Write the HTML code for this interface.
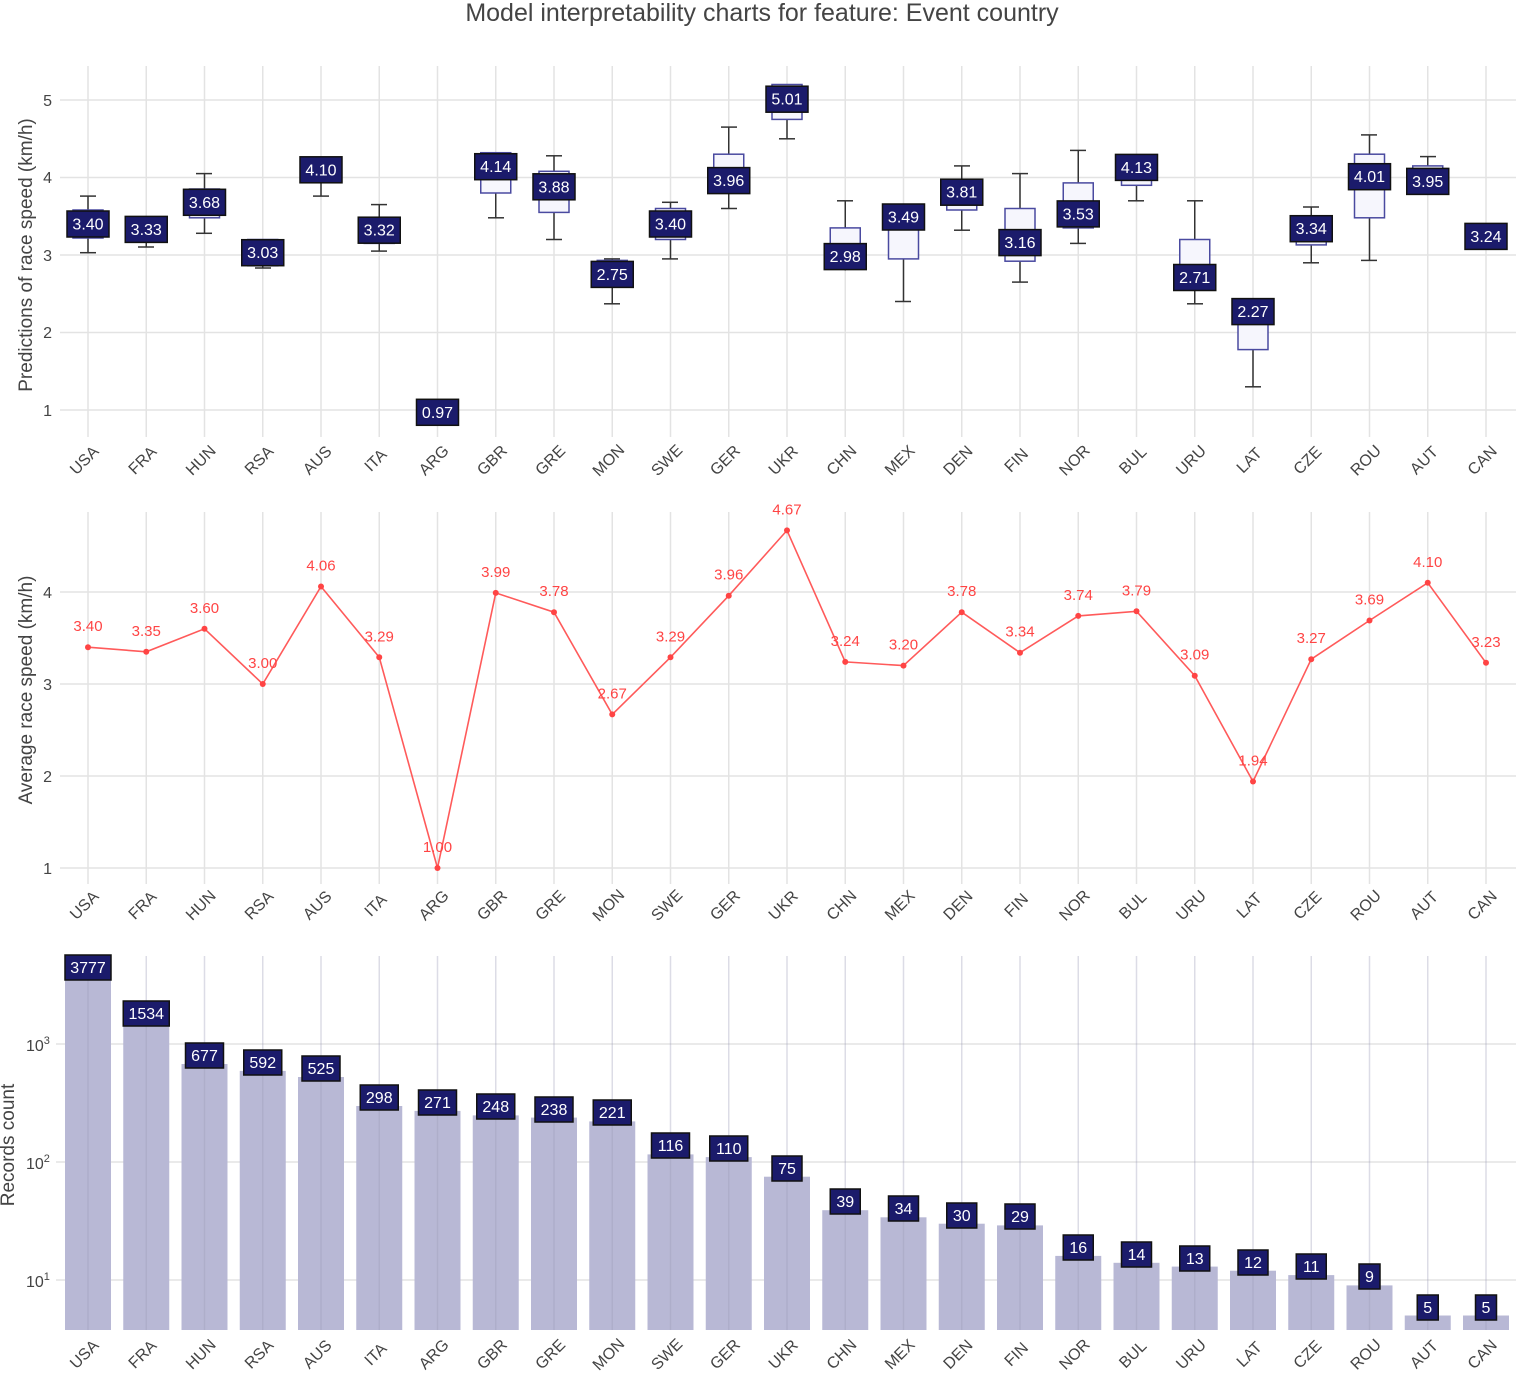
<!DOCTYPE html>
<html><head><meta charset="utf-8"><style>
html,body{margin:0;padding:0;background:#fff;}
svg{display:block;font-family:"Liberation Sans",sans-serif;}
.g{stroke:#e3e3e3;stroke-width:1.5;}
.t{fill:#444;font-size:16px;}
.xl{fill:#444;font-size:16px;text-anchor:middle;}
.lb{fill:#1b1b6b;stroke:#111;stroke-width:1.5;}
.lt{fill:#fff;font-size:16px;text-anchor:middle;}
.bx{fill:#f6f6fd;stroke:#4a4aa0;stroke-width:1.5;}
.wk{stroke:#333;stroke-width:1.5;}
.rl{fill:#ff4444;font-size:15px;text-anchor:middle;}
.bar{fill:#b8b8d5;}
</style></head><body>
<svg width="1516" height="1375" viewBox="0 0 1516 1375">
<text x="762" y="21" text-anchor="middle" font-size="25" fill="#444">Model interpretability charts for feature: Event country</text>

<!-- TOP -->
<g class="g">
<line x1="60" x2="1516" y1="100" y2="100"/><line x1="60" x2="1516" y1="177.5" y2="177.5"/><line x1="60" x2="1516" y1="255" y2="255"/><line x1="60" x2="1516" y1="332.5" y2="332.5"/><line x1="60" x2="1516" y1="410" y2="410"/>
<line x1="88" x2="88" y1="66" y2="437"/><line x1="146.25" x2="146.25" y1="66" y2="437"/><line x1="204.5" x2="204.5" y1="66" y2="437"/><line x1="262.75" x2="262.75" y1="66" y2="437"/><line x1="321" x2="321" y1="66" y2="437"/><line x1="379.25" x2="379.25" y1="66" y2="437"/><line x1="437.5" x2="437.5" y1="66" y2="437"/><line x1="495.75" x2="495.75" y1="66" y2="437"/><line x1="554" x2="554" y1="66" y2="437"/><line x1="612.25" x2="612.25" y1="66" y2="437"/><line x1="670.5" x2="670.5" y1="66" y2="437"/><line x1="728.75" x2="728.75" y1="66" y2="437"/><line x1="787" x2="787" y1="66" y2="437"/><line x1="845.25" x2="845.25" y1="66" y2="437"/><line x1="903.5" x2="903.5" y1="66" y2="437"/><line x1="961.75" x2="961.75" y1="66" y2="437"/><line x1="1020" x2="1020" y1="66" y2="437"/><line x1="1078.25" x2="1078.25" y1="66" y2="437"/><line x1="1136.5" x2="1136.5" y1="66" y2="437"/><line x1="1194.75" x2="1194.75" y1="66" y2="437"/><line x1="1253" x2="1253" y1="66" y2="437"/><line x1="1311.25" x2="1311.25" y1="66" y2="437"/><line x1="1369.5" x2="1369.5" y1="66" y2="437"/><line x1="1427.75" x2="1427.75" y1="66" y2="437"/><line x1="1486" x2="1486" y1="66" y2="437"/>
</g>
<g class="t" text-anchor="end"><text x="52" y="106">5</text><text x="52" y="183">4</text><text x="52" y="261">3</text><text x="52" y="338">2</text><text x="52" y="416">1</text></g>
<text transform="translate(32,255) rotate(-90)" text-anchor="middle" font-size="19" fill="#444">Predictions of race speed (km/h)</text>

<g>
<g class="wk">
<line x1="88" x2="88" y1="252.7" y2="196.1"/><line x1="80" x2="96" y1="252.7" y2="252.7"/><line x1="80" x2="96" y1="196.1" y2="196.1"/>
<line x1="146.25" x2="146.25" y1="247" y2="239.5"/><line x1="138" x2="154" y1="247" y2="247"/>
<line x1="204.5" x2="204.5" y1="233.3" y2="173.6"/><line x1="196" x2="212" y1="233.3" y2="233.3"/><line x1="196" x2="212" y1="173.6" y2="173.6"/>
<line x1="262.75" x2="262.75" y1="268" y2="265.8"/><line x1="255" x2="271" y1="268" y2="268"/>
<line x1="321" x2="321" y1="196.1" y2="158.1"/><line x1="313" x2="329" y1="196.1" y2="196.1"/>
<line x1="379.25" x2="379.25" y1="251.1" y2="204.6"/><line x1="371" x2="387" y1="251.1" y2="251.1"/><line x1="371" x2="387" y1="204.6" y2="204.6"/>
<line x1="495.75" x2="495.75" y1="217.8" y2="152.7"/><line x1="488" x2="504" y1="217.8" y2="217.8"/>
<line x1="554" x2="554" y1="239.5" y2="155.8"/><line x1="546" x2="562" y1="239.5" y2="239.5"/><line x1="546" x2="562" y1="155.8" y2="155.8"/>
<line x1="612.25" x2="612.25" y1="303.8" y2="258.9"/><line x1="604" x2="620" y1="303.8" y2="303.8"/><line x1="604" x2="620" y1="258.9" y2="258.9"/>
<line x1="670.5" x2="670.5" y1="258.9" y2="202.3"/><line x1="662" x2="678" y1="258.9" y2="258.9"/><line x1="662" x2="678" y1="202.3" y2="202.3"/>
<line x1="728.75" x2="728.75" y1="208.5" y2="127.1"/><line x1="721" x2="737" y1="208.5" y2="208.5"/><line x1="721" x2="737" y1="127.1" y2="127.1"/>
<line x1="787" x2="787" y1="138.8" y2="84.5"/><line x1="779" x2="795" y1="138.8" y2="138.8"/>
<line x1="845.25" x2="845.25" y1="270.5" y2="200.8"/><line x1="837" x2="853" y1="200.8" y2="200.8"/>
<line x1="903.5" x2="903.5" y1="301.5" y2="208.5"/><line x1="895" x2="911" y1="301.5" y2="301.5"/>
<line x1="961.75" x2="961.75" y1="230.2" y2="165.9"/><line x1="954" x2="970" y1="230.2" y2="230.2"/><line x1="954" x2="970" y1="165.9" y2="165.9"/>
<line x1="1020" x2="1020" y1="282.1" y2="173.6"/><line x1="1012" x2="1028" y1="282.1" y2="282.1"/><line x1="1012" x2="1028" y1="173.6" y2="173.6"/>
<line x1="1078.25" x2="1078.25" y1="243.4" y2="150.4"/><line x1="1070" x2="1086" y1="243.4" y2="243.4"/><line x1="1070" x2="1086" y1="150.4" y2="150.4"/>
<line x1="1136.5" x2="1136.5" y1="200.8" y2="162"/><line x1="1128" x2="1144" y1="200.8" y2="200.8"/>
<line x1="1194.75" x2="1194.75" y1="303.8" y2="200.8"/><line x1="1187" x2="1203" y1="303.8" y2="303.8"/><line x1="1187" x2="1203" y1="200.8" y2="200.8"/>
<line x1="1253" x2="1253" y1="386.8" y2="324.8"/><line x1="1245" x2="1261" y1="386.8" y2="386.8"/>
<line x1="1311.25" x2="1311.25" y1="262.8" y2="207"/><line x1="1303" x2="1319" y1="262.8" y2="262.8"/><line x1="1303" x2="1319" y1="207" y2="207"/>
<line x1="1369.5" x2="1369.5" y1="260.4" y2="134.9"/><line x1="1361" x2="1377" y1="260.4" y2="260.4"/><line x1="1361" x2="1377" y1="134.9" y2="134.9"/>
<line x1="1427.75" x2="1427.75" y1="193" y2="156.6"/><line x1="1420" x2="1436" y1="156.6" y2="156.6"/>
</g>
<g class="bx">
<rect x="73" y="210" width="30" height="28"/>
<rect x="131.25" y="220" width="30" height="19.5"/>
<rect x="189.5" y="189" width="30" height="28.8"/>
<rect x="247.75" y="239.5" width="30" height="26.3"/>
<rect x="306" y="158" width="30" height="23.4"/>
<rect x="364.25" y="220.1" width="30" height="23.3"/>
<rect x="480.75" y="152.7" width="30" height="40.3"/>
<rect x="539" y="171.3" width="30" height="41.1"/>
<rect x="597.25" y="260.4" width="30" height="25.6"/>
<rect x="655.5" y="208.5" width="30" height="31"/>
<rect x="713.75" y="154.2" width="30" height="38.8"/>
<rect x="772" y="84.5" width="30" height="34.9"/>
<rect x="830.25" y="227.9" width="30" height="34.9"/>
<rect x="888.5" y="208.5" width="30" height="50.4"/>
<rect x="946.75" y="181.4" width="30" height="28.6"/>
<rect x="1005" y="208.5" width="30" height="52.7"/>
<rect x="1063.25" y="182.9" width="30" height="45"/>
<rect x="1121.5" y="162" width="30" height="23.3"/>
<rect x="1179.75" y="239.5" width="30" height="50.4"/>
<rect x="1238" y="317" width="30" height="32.6"/>
<rect x="1296.25" y="220.1" width="30" height="24.8"/>
<rect x="1354.5" y="154.2" width="30" height="63.6"/>
<rect x="1412.75" y="165.9" width="30" height="27.1"/>
</g>
<g class="lb">
<rect x="67" y="211" width="42" height="26"/><rect x="125.25" y="216.4" width="42" height="26"/><rect x="183.5" y="189.3" width="42" height="26"/><rect x="241.75" y="239.7" width="42" height="26"/><rect x="300" y="156.8" width="42" height="26"/><rect x="358.25" y="217.2" width="42" height="26"/><rect x="416.5" y="399.3" width="42" height="26"/><rect x="474.75" y="153.7" width="42" height="26"/><rect x="533" y="173.8" width="42" height="26"/><rect x="591.25" y="261.4" width="42" height="26"/><rect x="649.5" y="211" width="42" height="26"/><rect x="707.75" y="167.6" width="42" height="26"/><rect x="766" y="86.2" width="42" height="26"/><rect x="824.25" y="243.6" width="42" height="26"/><rect x="882.5" y="204" width="42" height="26"/><rect x="940.75" y="179.2" width="42" height="26"/><rect x="999" y="229.6" width="42" height="26"/><rect x="1057.25" y="200.9" width="42" height="26"/><rect x="1115.5" y="154.4" width="42" height="26"/><rect x="1173.75" y="264.5" width="42" height="26"/><rect x="1232" y="298.6" width="42" height="26"/><rect x="1290.25" y="215.7" width="42" height="26"/><rect x="1348.5" y="163.7" width="42" height="26"/><rect x="1406.75" y="168.4" width="42" height="26"/><rect x="1465" y="223.4" width="42" height="26"/>
</g>
<g class="lt">
<text x="88" y="229.5">3.40</text><text x="146.25" y="234.9">3.33</text><text x="204.5" y="207.8">3.68</text><text x="262.75" y="258.2">3.03</text><text x="321" y="175.3">4.10</text><text x="379.25" y="235.7">3.32</text><text x="437.5" y="417.8">0.97</text><text x="495.75" y="172.2">4.14</text><text x="554" y="192.3">3.88</text><text x="612.25" y="279.9">2.75</text><text x="670.5" y="229.5">3.40</text><text x="728.75" y="186.1">3.96</text><text x="787" y="104.7">5.01</text><text x="845.25" y="262.1">2.98</text><text x="903.5" y="222.5">3.49</text><text x="961.75" y="197.7">3.81</text><text x="1020" y="248.1">3.16</text><text x="1078.25" y="219.4">3.53</text><text x="1136.5" y="172.9">4.13</text><text x="1194.75" y="283">2.71</text><text x="1253" y="317.1">2.27</text><text x="1311.25" y="234.2">3.34</text><text x="1369.5" y="182.2">4.01</text><text x="1427.75" y="186.9">3.95</text><text x="1486" y="241.9">3.24</text>
</g>
</g>
<g class="xl">
<text transform="translate(88,464) rotate(-45)">USA</text><text transform="translate(146.25,464) rotate(-45)">FRA</text><text transform="translate(204.5,464) rotate(-45)">HUN</text><text transform="translate(262.75,464) rotate(-45)">RSA</text><text transform="translate(321,464) rotate(-45)">AUS</text><text transform="translate(379.25,464) rotate(-45)">ITA</text><text transform="translate(437.5,464) rotate(-45)">ARG</text><text transform="translate(495.75,464) rotate(-45)">GBR</text><text transform="translate(554,464) rotate(-45)">GRE</text><text transform="translate(612.25,464) rotate(-45)">MON</text><text transform="translate(670.5,464) rotate(-45)">SWE</text><text transform="translate(728.75,464) rotate(-45)">GER</text><text transform="translate(787,464) rotate(-45)">UKR</text><text transform="translate(845.25,464) rotate(-45)">CHN</text><text transform="translate(903.5,464) rotate(-45)">MEX</text><text transform="translate(961.75,464) rotate(-45)">DEN</text><text transform="translate(1020,464) rotate(-45)">FIN</text><text transform="translate(1078.25,464) rotate(-45)">NOR</text><text transform="translate(1136.5,464) rotate(-45)">BUL</text><text transform="translate(1194.75,464) rotate(-45)">URU</text><text transform="translate(1253,464) rotate(-45)">LAT</text><text transform="translate(1311.25,464) rotate(-45)">CZE</text><text transform="translate(1369.5,464) rotate(-45)">ROU</text><text transform="translate(1427.75,464) rotate(-45)">AUT</text><text transform="translate(1486,464) rotate(-45)">CAN</text>
</g>

<!-- MIDDLE -->
<g class="g">
<line x1="60" x2="1516" y1="592" y2="592"/><line x1="60" x2="1516" y1="684" y2="684"/><line x1="60" x2="1516" y1="776" y2="776"/><line x1="60" x2="1516" y1="868" y2="868"/>
<line x1="88" x2="88" y1="512" y2="884"/><line x1="146.25" x2="146.25" y1="512" y2="884"/><line x1="204.5" x2="204.5" y1="512" y2="884"/><line x1="262.75" x2="262.75" y1="512" y2="884"/><line x1="321" x2="321" y1="512" y2="884"/><line x1="379.25" x2="379.25" y1="512" y2="884"/><line x1="437.5" x2="437.5" y1="512" y2="884"/><line x1="495.75" x2="495.75" y1="512" y2="884"/><line x1="554" x2="554" y1="512" y2="884"/><line x1="612.25" x2="612.25" y1="512" y2="884"/><line x1="670.5" x2="670.5" y1="512" y2="884"/><line x1="728.75" x2="728.75" y1="512" y2="884"/><line x1="787" x2="787" y1="512" y2="884"/><line x1="845.25" x2="845.25" y1="512" y2="884"/><line x1="903.5" x2="903.5" y1="512" y2="884"/><line x1="961.75" x2="961.75" y1="512" y2="884"/><line x1="1020" x2="1020" y1="512" y2="884"/><line x1="1078.25" x2="1078.25" y1="512" y2="884"/><line x1="1136.5" x2="1136.5" y1="512" y2="884"/><line x1="1194.75" x2="1194.75" y1="512" y2="884"/><line x1="1253" x2="1253" y1="512" y2="884"/><line x1="1311.25" x2="1311.25" y1="512" y2="884"/><line x1="1369.5" x2="1369.5" y1="512" y2="884"/><line x1="1427.75" x2="1427.75" y1="512" y2="884"/><line x1="1486" x2="1486" y1="512" y2="884"/>
</g>
<g class="t" text-anchor="end"><text x="52" y="598">4</text><text x="52" y="690">3</text><text x="52" y="782">2</text><text x="52" y="874">1</text></g>
<text transform="translate(32,690) rotate(-90)" text-anchor="middle" font-size="19" fill="#444">Average race speed (km/h)</text>
<polyline fill="none" stroke="#ff5a5a" stroke-width="1.6" points="88,647.2 146.25,651.8 204.5,628.8 262.75,684 321,586.5 379.25,657.3 437.5,868 495.75,592.9 554,612.2 612.25,714.4 670.5,657.3 728.75,595.7 787,530.4 845.25,661.9 903.5,665.6 961.75,612.2 1020,652.7 1078.25,615.9 1136.5,611.3 1194.75,675.7 1253,781.5 1311.25,659.2 1369.5,620.5 1427.75,582.8 1486,662.8"/>
<g fill="#ff4444">
<circle cx="88" cy="647.2" r="3"/><circle cx="146.25" cy="651.8" r="3"/><circle cx="204.5" cy="628.8" r="3"/><circle cx="262.75" cy="684" r="3"/><circle cx="321" cy="586.5" r="3"/><circle cx="379.25" cy="657.3" r="3"/><circle cx="437.5" cy="868" r="3"/><circle cx="495.75" cy="592.9" r="3"/><circle cx="554" cy="612.2" r="3"/><circle cx="612.25" cy="714.4" r="3"/><circle cx="670.5" cy="657.3" r="3"/><circle cx="728.75" cy="595.7" r="3"/><circle cx="787" cy="530.4" r="3"/><circle cx="845.25" cy="661.9" r="3"/><circle cx="903.5" cy="665.6" r="3"/><circle cx="961.75" cy="612.2" r="3"/><circle cx="1020" cy="652.7" r="3"/><circle cx="1078.25" cy="615.9" r="3"/><circle cx="1136.5" cy="611.3" r="3"/><circle cx="1194.75" cy="675.7" r="3"/><circle cx="1253" cy="781.5" r="3"/><circle cx="1311.25" cy="659.2" r="3"/><circle cx="1369.5" cy="620.5" r="3"/><circle cx="1427.75" cy="582.8" r="3"/><circle cx="1486" cy="662.8" r="3"/>
</g>
<g class="rl">
<text x="88" y="631.2">3.40</text><text x="146.25" y="635.8">3.35</text><text x="204.5" y="612.8">3.60</text><text x="262.75" y="668">3.00</text><text x="321" y="570.5">4.06</text><text x="379.25" y="641.3">3.29</text><text x="437.5" y="852">1.00</text><text x="495.75" y="576.9">3.99</text><text x="554" y="596.2">3.78</text><text x="612.25" y="698.4">2.67</text><text x="670.5" y="641.3">3.29</text><text x="728.75" y="579.7">3.96</text><text x="787" y="514.4">4.67</text><text x="845.25" y="645.9">3.24</text><text x="903.5" y="649.6">3.20</text><text x="961.75" y="596.2">3.78</text><text x="1020" y="636.7">3.34</text><text x="1078.25" y="599.9">3.74</text><text x="1136.5" y="595.3">3.79</text><text x="1194.75" y="659.7">3.09</text><text x="1253" y="765.5">1.94</text><text x="1311.25" y="643.2">3.27</text><text x="1369.5" y="604.5">3.69</text><text x="1427.75" y="566.8">4.10</text><text x="1486" y="646.8">3.23</text>
</g>
<g class="xl">
<text transform="translate(88,909) rotate(-45)">USA</text><text transform="translate(146.25,909) rotate(-45)">FRA</text><text transform="translate(204.5,909) rotate(-45)">HUN</text><text transform="translate(262.75,909) rotate(-45)">RSA</text><text transform="translate(321,909) rotate(-45)">AUS</text><text transform="translate(379.25,909) rotate(-45)">ITA</text><text transform="translate(437.5,909) rotate(-45)">ARG</text><text transform="translate(495.75,909) rotate(-45)">GBR</text><text transform="translate(554,909) rotate(-45)">GRE</text><text transform="translate(612.25,909) rotate(-45)">MON</text><text transform="translate(670.5,909) rotate(-45)">SWE</text><text transform="translate(728.75,909) rotate(-45)">GER</text><text transform="translate(787,909) rotate(-45)">UKR</text><text transform="translate(845.25,909) rotate(-45)">CHN</text><text transform="translate(903.5,909) rotate(-45)">MEX</text><text transform="translate(961.75,909) rotate(-45)">DEN</text><text transform="translate(1020,909) rotate(-45)">FIN</text><text transform="translate(1078.25,909) rotate(-45)">NOR</text><text transform="translate(1136.5,909) rotate(-45)">BUL</text><text transform="translate(1194.75,909) rotate(-45)">URU</text><text transform="translate(1253,909) rotate(-45)">LAT</text><text transform="translate(1311.25,909) rotate(-45)">CZE</text><text transform="translate(1369.5,909) rotate(-45)">ROU</text><text transform="translate(1427.75,909) rotate(-45)">AUT</text><text transform="translate(1486,909) rotate(-45)">CAN</text>
</g>

<!-- BOTTOM -->
<g class="g">
<line x1="56" x2="1516" y1="1044" y2="1044"/><line x1="56" x2="1516" y1="1162" y2="1162"/><line x1="56" x2="1516" y1="1280" y2="1280"/>
</g>
<g class="bar">
<rect x="65" y="975.9" width="46" height="354.1"/><rect x="123.25" y="1022.1" width="46" height="307.9"/><rect x="181.5" y="1064" width="46" height="266"/><rect x="239.75" y="1070.9" width="46" height="259.1"/><rect x="298" y="1077" width="46" height="253"/><rect x="356.25" y="1106" width="46" height="224"/><rect x="414.5" y="1110.9" width="46" height="219.1"/><rect x="472.75" y="1115.4" width="46" height="214.6"/><rect x="531" y="1117.6" width="46" height="212.4"/><rect x="589.25" y="1121.4" width="46" height="208.6"/><rect x="647.5" y="1154.4" width="46" height="175.6"/><rect x="705.75" y="1157.1" width="46" height="172.9"/><rect x="764" y="1176.7" width="46" height="153.3"/><rect x="822.25" y="1210.2" width="46" height="119.8"/><rect x="880.5" y="1217.3" width="46" height="112.7"/><rect x="938.75" y="1223.7" width="46" height="106.3"/><rect x="997" y="1225.4" width="46" height="104.6"/><rect x="1055.25" y="1255.9" width="46" height="74.1"/><rect x="1113.5" y="1262.8" width="46" height="67.2"/><rect x="1171.75" y="1266.6" width="46" height="63.4"/><rect x="1230" y="1270.7" width="46" height="59.3"/><rect x="1288.25" y="1275.1" width="46" height="54.9"/><rect x="1346.5" y="1285.4" width="46" height="44.6"/><rect x="1404.75" y="1315.5" width="46" height="14.5"/><rect x="1463" y="1315.5" width="46" height="14.5"/>
</g>
<g stroke="#9a9ab8" stroke-opacity="0.35" stroke-width="1.5">
<line x1="88" x2="88" y1="956" y2="1330"/><line x1="146.25" x2="146.25" y1="956" y2="1330"/><line x1="204.5" x2="204.5" y1="956" y2="1330"/><line x1="262.75" x2="262.75" y1="956" y2="1330"/><line x1="321" x2="321" y1="956" y2="1330"/><line x1="379.25" x2="379.25" y1="956" y2="1330"/><line x1="437.5" x2="437.5" y1="956" y2="1330"/><line x1="495.75" x2="495.75" y1="956" y2="1330"/><line x1="554" x2="554" y1="956" y2="1330"/><line x1="612.25" x2="612.25" y1="956" y2="1330"/><line x1="670.5" x2="670.5" y1="956" y2="1330"/><line x1="728.75" x2="728.75" y1="956" y2="1330"/><line x1="787" x2="787" y1="956" y2="1330"/><line x1="845.25" x2="845.25" y1="956" y2="1330"/><line x1="903.5" x2="903.5" y1="956" y2="1330"/><line x1="961.75" x2="961.75" y1="956" y2="1330"/><line x1="1020" x2="1020" y1="956" y2="1330"/><line x1="1078.25" x2="1078.25" y1="956" y2="1330"/><line x1="1136.5" x2="1136.5" y1="956" y2="1330"/><line x1="1194.75" x2="1194.75" y1="956" y2="1330"/><line x1="1253" x2="1253" y1="956" y2="1330"/><line x1="1311.25" x2="1311.25" y1="956" y2="1330"/><line x1="1369.5" x2="1369.5" y1="956" y2="1330"/><line x1="1427.75" x2="1427.75" y1="956" y2="1330"/><line x1="1486" x2="1486" y1="956" y2="1330"/>
</g>
<g class="t"><text x="26" y="1051">10<tspan font-size="11" dy="-7">3</tspan></text><text x="26" y="1169">10<tspan font-size="11" dy="-7">2</tspan></text><text x="26" y="1287">10<tspan font-size="11" dy="-7">1</tspan></text></g>
<text transform="translate(14,1145) rotate(-90)" text-anchor="middle" font-size="19" fill="#444">Records count</text>
<g class="lb">
<rect x="65" y="955" width="46" height="25"/><rect x="123.25" y="1001" width="46" height="25"/><rect x="185.5" y="1043" width="38" height="25"/><rect x="243.75" y="1050" width="38" height="25"/><rect x="302" y="1056" width="38" height="25"/><rect x="360.25" y="1085" width="38" height="25"/><rect x="418.5" y="1090" width="38" height="25"/><rect x="476.75" y="1094" width="38" height="25"/><rect x="535" y="1097" width="38" height="25"/><rect x="593.25" y="1100" width="38" height="25"/><rect x="651.5" y="1133" width="38" height="25"/><rect x="709.75" y="1136" width="38" height="25"/><rect x="772" y="1156" width="30" height="25"/><rect x="830.25" y="1189" width="30" height="25"/><rect x="888.5" y="1196" width="30" height="25"/><rect x="946.75" y="1203" width="30" height="25"/><rect x="1005" y="1204" width="30" height="25"/><rect x="1063.25" y="1235" width="30" height="25"/><rect x="1121.5" y="1242" width="30" height="25"/><rect x="1179.75" y="1246" width="30" height="25"/><rect x="1238" y="1250" width="30" height="25"/><rect x="1296.25" y="1254" width="30" height="25"/><rect x="1359" y="1264" width="21" height="25"/><rect x="1417.25" y="1295" width="21" height="25"/><rect x="1475.5" y="1295" width="21" height="25"/>
</g>
<g class="lt">
<text x="88" y="973">3777</text><text x="146.25" y="1019">1534</text><text x="204.5" y="1061">677</text><text x="262.75" y="1068">592</text><text x="321" y="1074">525</text><text x="379.25" y="1103">298</text><text x="437.5" y="1108">271</text><text x="495.75" y="1112">248</text><text x="554" y="1115">238</text><text x="612.25" y="1118">221</text><text x="670.5" y="1151">116</text><text x="728.75" y="1154">110</text><text x="787" y="1174">75</text><text x="845.25" y="1207">39</text><text x="903.5" y="1214">34</text><text x="961.75" y="1221">30</text><text x="1020" y="1222">29</text><text x="1078.25" y="1253">16</text><text x="1136.5" y="1260">14</text><text x="1194.75" y="1264">13</text><text x="1253" y="1268">12</text><text x="1311.25" y="1272">11</text><text x="1369.5" y="1282">9</text><text x="1427.75" y="1313">5</text><text x="1486" y="1313">5</text>
</g>
<g class="xl">
<text transform="translate(88,1358) rotate(-45)">USA</text><text transform="translate(146.25,1358) rotate(-45)">FRA</text><text transform="translate(204.5,1358) rotate(-45)">HUN</text><text transform="translate(262.75,1358) rotate(-45)">RSA</text><text transform="translate(321,1358) rotate(-45)">AUS</text><text transform="translate(379.25,1358) rotate(-45)">ITA</text><text transform="translate(437.5,1358) rotate(-45)">ARG</text><text transform="translate(495.75,1358) rotate(-45)">GBR</text><text transform="translate(554,1358) rotate(-45)">GRE</text><text transform="translate(612.25,1358) rotate(-45)">MON</text><text transform="translate(670.5,1358) rotate(-45)">SWE</text><text transform="translate(728.75,1358) rotate(-45)">GER</text><text transform="translate(787,1358) rotate(-45)">UKR</text><text transform="translate(845.25,1358) rotate(-45)">CHN</text><text transform="translate(903.5,1358) rotate(-45)">MEX</text><text transform="translate(961.75,1358) rotate(-45)">DEN</text><text transform="translate(1020,1358) rotate(-45)">FIN</text><text transform="translate(1078.25,1358) rotate(-45)">NOR</text><text transform="translate(1136.5,1358) rotate(-45)">BUL</text><text transform="translate(1194.75,1358) rotate(-45)">URU</text><text transform="translate(1253,1358) rotate(-45)">LAT</text><text transform="translate(1311.25,1358) rotate(-45)">CZE</text><text transform="translate(1369.5,1358) rotate(-45)">ROU</text><text transform="translate(1427.75,1358) rotate(-45)">AUT</text><text transform="translate(1486,1358) rotate(-45)">CAN</text>
</g>
</svg>
</body></html>
